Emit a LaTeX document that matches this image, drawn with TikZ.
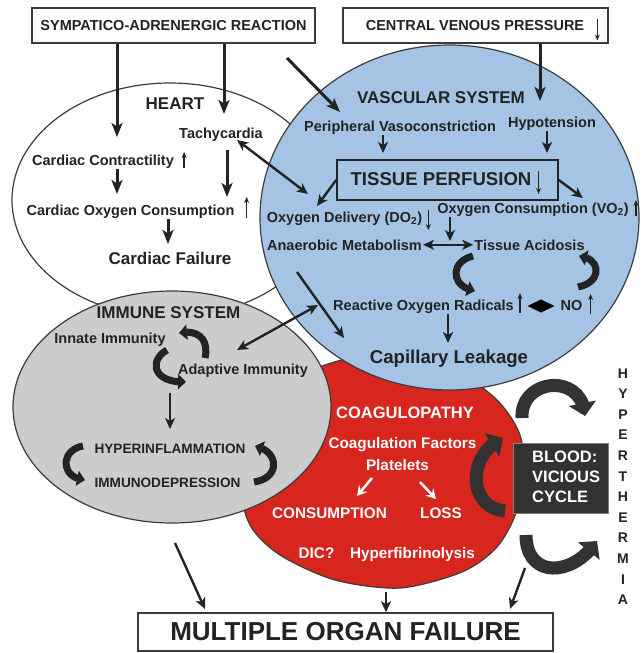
\documentclass[tikz,border=0pt]{standalone}
\usepackage{fontspec}
\setmainfont{Liberation Sans}
\usetikzlibrary{arrows.meta,shapes.geometric,calc,bending}
\newcommand\myfs[1]{\fontsize{#1}{#1}\selectfont}
\definecolor{ink}{RGB}{35,35,35}
\definecolor{edge}{RGB}{60,60,60}
\definecolor{blueF}{RGB}{165,196,229}
\definecolor{grayF}{RGB}{204,204,204}
\definecolor{redF}{RGB}{214,38,30}
\definecolor{boxdark}{RGB}{50,50,50}
\tikzset{
  lbl/.style={anchor=base, inner sep=1pt, text=ink, font=\bfseries\myfs{14.5}},
  tTtl/.style={lbl, font=\bfseries\myfs{17}},
  tBig/.style={lbl, font=\bfseries\myfs{18.6}},
  tSm/.style={lbl, font=\bfseries\myfs{13.6}},
  wLbl/.style={lbl, text=white, font=\bfseries\myfs{15.3}},
  wTtl/.style={lbl, text=white, font=\bfseries\myfs{16.5}},
  boxed/.style={draw=edge, line width=1.5pt, fill=white, inner sep=0},
  region/.style={ellipse, draw=edge, line width=1.2pt, inner sep=0},
  arr/.style={draw=ink, line width=3pt, -{Stealth[length=14pt,width=11pt,inset=3.5pt]}},
  arrB/.style={draw=ink, line width=2.4pt, -{Stealth[length=11pt,width=10pt,inset=3pt]}},
  darr/.style={draw=ink, line width=2.4pt, {Stealth[length=11pt,width=10pt,inset=3pt]}-{Stealth[length=11pt,width=10pt,inset=3pt]}},
  sarr/.style={draw=ink, line width=1.3pt, -{Stealth[length=6pt,width=5pt]}},
  warr/.style={draw=white, line width=2.5pt, -{Stealth[length=10pt,width=11pt,inset=4pt]}},
  curv/.style={draw=ink, line width=7pt, -{Triangle[length=8pt,width=15pt]}},
  bcurv/.style={draw=boxdark, line width=13pt, -{Triangle[length=13pt,width=27pt]}}
}
\begin{document}
\begin{tikzpicture}[x=1pt,y=-1pt]
\useasboundingbox (0,0) rectangle (641,653);
\clip (0,0) rectangle (641,653);
\fill[white] (0,0) rectangle (641,653);

% regions
\node[region, fill=white, minimum width=316pt, minimum height=234pt] (heartE) at (170,200) {};
\draw[draw=edge, fill=redF, line width=1.2pt] plot[smooth cycle] coordinates {(383,352) (450,368) (495,398) (518,430) (524,462) (517,510) (497,547) (462,572) (400,588) (335,580) (280,555) (250,525) (240,480) (255,420) (300,375)};
\node[region, fill=grayF, minimum width=318pt, minimum height=232pt] (immE) at (172,407) {};
\node[region, fill=blueF, minimum width=379pt, minimum height=345pt] (vascE) at (449.5,217.5) {};

% boxes
\node[boxed, minimum width=283pt, minimum height=35pt, font=\bfseries\myfs{14.5}, text=ink] (sar) at (173.5,25.5) {SYMPATICO-ADRENERGIC REACTION};
\node[boxed, minimum width=265pt, minimum height=35pt] (cvp) at (475.5,25.5) {};
\node[lbl] (cvpt) at (475,30.5) {CENTRAL VENOUS PRESSURE};
\draw[sarr] ($(cvpt.base east)+(12,-12)$) -- ++(0,22);
\node[boxed, minimum width=415pt, minimum height=38pt, font=\bfseries\myfs{26}, text=ink] (mof) at (345.5,632) {MULTIPLE ORGAN FAILURE};

% heart
\node[tTtl] (heartT) at (175,109) {HEART};
\node[lbl] (tachy) at (221,138) {Tachycardia};
\node[lbl] (cc) at (103,165) {Cardiac Contractility};
\draw[sarr] ($(cc.base east)+(9,3)$) -- ++(0,-16);
\node[lbl] (coc) at (130.5,215) {Cardiac Oxygen Consumption};
\draw[sarr] ($(coc.base east)+(11,3)$) -- ++(0,-21);
\node[tTtl] (cf) at (170,264.5) {Cardiac Failure};

\coordinate (h1) at (117,137);
\draw[arr] (sar.south -| h1) -- (h1);
\coordinate (h2) at (224,114);
\draw[arr] (sar.south -| h2) -- (h2);
\coordinate (h3) at (117,194);
\draw[arr] (cc.south -| h3) -- (h3);
\coordinate (h4a) at (227,150);
\coordinate (h4b) at (227,197);
\draw[arr] (h4a) -- (h4b);
\coordinate (h5) at (168,244);
\draw[arr] (coc.south -| h5) -- (h5);
\coordinate (h6a) at (237,140);
\coordinate (h6b) at (308,194);
\draw[darr] (h6a) -- (h6b);

% vascular
\coordinate (v0a) at (287,58);
\coordinate (v0b) at (340,112);
\draw[arr] (v0a) -- (v0b);
\node[tTtl] (vascT) at (441,103) {VASCULAR SYSTEM};
\node[lbl] (pv) at (400,131) {Peripheral Vasoconstriction};
\node[lbl] (hyp) at (552,127) {Hypotension};
\coordinate (v1) at (540,101);
\draw[arr] (cvp.south -| v1) -- (v1);
\node[draw=ink, line width=1.6pt, minimum width=221pt, minimum height=40pt, inner sep=0] (tp) at (447.5,180) {};
\node[tBig] (tpt) at (441,185) {TISSUE PERFUSION};
\draw[sarr] ($(tpt.base east)+(6,-14)$) -- ++(0,23);
\coordinate (v2) at (383,153);
\draw[arrB] (pv.south -| v2) -- (v2);
\coordinate (v3) at (547,153);
\draw[arrB] (hyp.south -| v3) -- (v3);
\node[lbl] (od) at (344.5,222) {Oxygen Delivery (DO\textsubscript{2})};
\draw[sarr] ($(od.base east)+(5,-12)$) -- ++(0,20);
\node[lbl] (oc) at (533,213) {Oxygen Consumption (VO\textsubscript{2})};
\draw[sarr] ($(oc.base east)+(6,3)$) -- ++(0,-16);
\coordinate (v4) at (317,206);
\draw[arrB] (tp.west) -- (v4);
\coordinate (v5) at (583,198);
\draw[arrB] (tp.east) -- (v5);
\node[lbl] (am) at (344.5,250) {Anaerobic Metabolism};
\node[lbl] (ta) at (529.5,250) {Tissue Acidosis};
\draw[darr] (am.east) -- (ta.west);
\coordinate (v6) at (450,241);
\draw[arrB] (oc.south -| v6) -- (v6);
\draw[curv] (473,256) .. controls (449,262) and (451,287) .. (475,291);
\draw[curv] (578,287) .. controls (603,282) and (601,258) .. (579,256);
\node[lbl] (ror) at (423.5,310) {Reactive Oxygen Radicals};
\draw[sarr] ($(ror.base east)+(5,3)$) -- ++(0,-20);
\fill[black] (527.5,306) -- (541,299.5) -- (554.5,306) -- (541,312.5) -- cycle;
\node[lbl] (no) at (571.5,310) {NO};
\draw[sarr] ($(no.base east)+(7,4)$) -- ++(0,-20);
\node[tBig] (cl) at (449,363.5) {Capillary Leakage};
\coordinate (v7) at (448,343);
\draw[arrB] (ror.south -| v7) -- (v7);
\coordinate (v8a) at (297,272);
\coordinate (v8b) at (344,338);
\draw[arrB] (v8a) -- (v8b);
\coordinate (v9a) at (318,305);
\coordinate (v9b) at (237,350);
\draw[darr] (v9a) -- (v9b);

% immune
\node[tTtl] (immT) at (168.5,318) {IMMUNE SYSTEM};
\node[lbl] (innate) at (110,343) {Innate Immunity};
\node[lbl] (adapt) at (243,374) {Adaptive Immunity};
\draw[curv] (205,358) .. controls (209,340) and (199,329) .. (179,333);
\draw[curv] (167,350) .. controls (149,360) and (152,383) .. (186,382);
\coordinate (i1a) at (170,393);
\coordinate (i1b) at (170,429);
\draw[arrB] (i1a) -- (i1b);
\node[tSm] (hyper) at (170,453) {HYPERINFLAMMATION};
\node[tSm] (immdep) at (167.5,487) {IMMUNODEPRESSION};
\draw[curv] (83,446) .. controls (60,450) and (60,478) .. (85,480);
\draw[curv] (254,482) .. controls (281,478) and (279,451) .. (255,446);
\coordinate (i2a) at (175,543);
\coordinate (i2b) at (205,609);
\draw[arrB] (i2a) -- (i2b);

% coagulopathy
\node[wTtl] (coag) at (405,418) {COAGULOPATHY};
\node[wLbl] (cfac) at (402.5,448.5) {Coagulation Factors};
\node[wLbl] (plt) at (397.5,470.5) {Platelets};
\node[wLbl] (cons) at (329.5,518.5) {CONSUMPTION};
\node[wLbl] (loss) at (441,518.5) {LOSS};
\node[wLbl] (dic) at (316.5,558.5) {DIC?};
\node[wLbl] (hfib) at (412.5,558.5) {Hyperfibrinolysis};
\coordinate (w1a) at (372,478);
\coordinate (w1b) at (357,496);
\draw[warr] (w1a) -- (w1b);
\coordinate (w2a) at (420,482);
\coordinate (w2b) at (436,499);
\draw[warr] (w2a) -- (w2b);
\coordinate (r1) at (386,592);
\draw[arrB] (r1) -- (mof.north -| r1);

% blood vicious cycle
\node[fill=boxdark, draw=gray, line width=0.8pt, minimum width=95pt, minimum height=70pt, inner sep=0] (blood) at (560.5,478) {};
\node[anchor=west, align=left, text=white, font=\bfseries\fontsize{16.5}{20}\selectfont, inner sep=0] (bloodt) at (532,477) {BLOOD:\\VICIOUS\\CYCLE};
\draw[bcurv] (522,418) .. controls (520,378) and (583,372) .. (585,416);
\draw[bcurv] (505,511) .. controls (468,508) and (466,455) .. (503,438);
\draw[bcurv] (526,535) .. controls (526,578) and (572,578) .. (597,541);
\coordinate (r2a) at (525,568);
\coordinate (r2b) at (510,609);
\draw[arrB] (r2a) -- (r2b);

\node[align=center, text=ink, font=\bfseries\fontsize{14}{20.6}\selectfont, inner sep=0] (hypth) at (623,486.5) {H\\Y\\P\\E\\R\\T\\H\\E\\R\\M\\I\\A};
\end{tikzpicture}
\end{document}
